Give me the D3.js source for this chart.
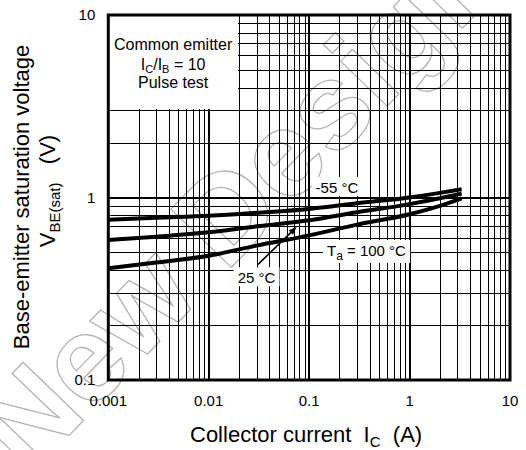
<!DOCTYPE html>
<html>
<head>
<meta charset="utf-8">
<script src="https://cdn.jsdelivr.net/npm/d3@7"></script>
<style>
  html, body { margin: 0; padding: 0; background: #fff; }
  svg { display: block; font-family: "Liberation Sans", Arial, sans-serif; }
  text { white-space: pre; }
</style>
</head>
<body>
<svg id="chart" width="526" height="450"></svg>
<script>
(function () {
    'use strict';

    // collector current Ic (A) and VBE(sat) (V) for each ambient temperature
    var currents = [0.001, 0.003, 0.01, 0.03, 0.1, 0.3, 1, 2, 3.3];
    var vbeMinus55 = [0.755, 0.775, 0.795, 0.825, 0.865, 0.93, 1.0, 1.06, 1.11];
    var vbe25 = [0.585, 0.61, 0.645, 0.695, 0.75, 0.83, 0.92, 0.99, 1.05];
    var vbe100 = [0.41, 0.44, 0.48, 0.545, 0.62, 0.71, 0.81, 0.90, 0.99];

    var xTickLabels = ['0.001', '0.01', '0.1', '1', '10'];
    var yTickLabels = ['0.1', '1', '10'];

    // curve labels: [Ic, VBE] of text centre / baseline
    var labelNames = [[['-55 °C', false]], [['T', false], ['a', true], [' = 100 °C', false]], [['25 °C', false]]];
    var labelAt = [[0.189, 1.06], [0.372, 0.478], [0.0299, 0.339]];
    var arrowFrom = [0.031, 0.43];
    var arrowTo = [0.075, 0.69];

    var svg = d3.select('#chart');
    var left = 108.3, right = 510, top = 15, bottom = 380;

    var x = d3.scaleLog().domain([0.001, 10]).range([left, right]);
    var y = d3.scaleLog().domain([0.1, 10]).range([bottom, top]);

    function isDecade(v) {
        var l = Math.log10(v);
        return Math.abs(l - Math.round(l)) < 1e-9;
    }

    // faint outlined watermark behind the chart
    svg.append('text')
        .attr('transform', 'translate(28,478) rotate(-46)')
        .attr('font-size', 122)
        .attr('font-weight', 'bold')
        .style('fill', 'none')
        .style('stroke', '#b4b4b4')
        .style('stroke-width', 1.3)
        .style('stroke-linejoin', 'round')
        .text('New Design');

    var grid = svg.append('g').attr('shape-rendering', 'crispEdges');

    grid.selectAll('line.vx')
        .data(x.ticks().filter(function (d) { return d > 0.001 && d < 10; }))
        .enter().append('line')
        .attr('x1', function (d) { return Math.round(x(d)); })
        .attr('x2', function (d) { return Math.round(x(d)); })
        .attr('y1', top)
        .attr('y2', bottom)
        .style('stroke', '#000')
        .style('stroke-width', function (d) { return isDecade(d) ? 2 : 1; });

    grid.selectAll('line.hy')
        .data(y.ticks().filter(function (d) { return d > 0.1 && d < 10; }))
        .enter().append('line')
        .attr('y1', function (d) { return Math.round(y(d)); })
        .attr('y2', function (d) { return Math.round(y(d)); })
        .attr('x1', left)
        .attr('x2', right)
        .style('stroke', '#000')
        .style('stroke-width', function (d) { return isDecade(d) ? 2 : 1; });

    // condition box, white cell in the upper left corner
    var boxRight = Math.round(x(0.02)) - 1;
    var boxBottom = Math.round(y(3)) - 1;
    svg.append('rect')
        .attr('x', left)
        .attr('y', top)
        .attr('width', boxRight - left)
        .attr('height', boxBottom - top)
        .style('fill', '#fff');

    var boxMid = (left + boxRight) / 2;
    var cond = svg.append('g').attr('font-size', 16).attr('text-anchor', 'middle');
    cond.append('text').attr('x', boxMid).attr('y', top + 35).text('Common emitter');
    var ratio = cond.append('text').attr('x', boxMid).attr('y', top + 55);
    ratio.append('tspan').text('I');
    ratio.append('tspan').attr('font-size', 11).attr('dy', 2.5).text('C');
    ratio.append('tspan').attr('dy', -2.5).text('/I');
    ratio.append('tspan').attr('font-size', 11).attr('dy', 2.5).text('B');
    ratio.append('tspan').attr('dy', -2.5).text(' = 10');
    cond.append('text').attr('x', boxMid).attr('y', top + 73).text('Pulse test');

    // curves
    var line = d3.line()
        .x(function (d) { return x(d[0]); })
        .y(function (d) { return y(d[1]); })
        .curve(d3.curveMonotoneX);

    [vbeMinus55, vbe25, vbe100].forEach(function (series) {
        svg.append('path')
            .datum(currents.map(function (c, i) { return [c, series[i]]; }))
            .attr('d', line)
            .style('fill', 'none')
            .style('stroke', '#000')
            .style('stroke-width', 4)
            .style('stroke-linejoin', 'round');
    });

    // curve labels on white patches
    labelNames.forEach(function (parts, i) {
        var g = svg.append('g');
        var t = g.append('text')
            .attr('x', x(labelAt[i][0]))
            .attr('y', y(labelAt[i][1]))
            .attr('font-size', 15)
            .attr('text-anchor', 'middle');
        parts.forEach(function (p, k) {
            var s = t.append('tspan').text(p[0]);
            if (p[1]) {
                s.attr('font-size', 12).attr('dy', 4);
            } else if (k > 0 && parts[k - 1][1]) {
                s.attr('dy', -4);
            }
        });
        var bb = t.node().getBBox();
        g.insert('rect', 'text')
            .attr('x', bb.x - 4)
            .attr('y', bb.y - 2)
            .attr('width', bb.width + 8)
            .attr('height', bb.height + 2)
            .style('fill', '#fff');
    });

    // arrow pointing at the 25 degree curve
    var ax0 = x(arrowFrom[0]), ay0 = y(arrowFrom[1]);
    var ax1 = x(arrowTo[0]), ay1 = y(arrowTo[1]);
    var ang = Math.atan2(ay1 - ay0, ax1 - ax0);
    var head = 8, half = 3;
    svg.append('line')
        .attr('x1', ax0).attr('y1', ay0)
        .attr('x2', ax1 - Math.cos(ang) * head * 0.7).attr('y2', ay1 - Math.sin(ang) * head * 0.7)
        .style('stroke', '#000')
        .style('stroke-width', 1.6);
    svg.append('path')
        .attr('d', 'M' + ax1 + ',' + ay1 +
            'L' + (ax1 - Math.cos(ang) * head - Math.sin(ang) * half) + ',' + (ay1 - Math.sin(ang) * head + Math.cos(ang) * half) +
            'L' + (ax1 - Math.cos(ang) * head + Math.sin(ang) * half) + ',' + (ay1 - Math.sin(ang) * head - Math.cos(ang) * half) + 'Z')
        .style('fill', '#000');

    // frame
    svg.append('rect')
        .attr('x', left)
        .attr('y', top)
        .attr('width', right - left)
        .attr('height', bottom - top)
        .style('fill', 'none')
        .style('stroke', '#000')
        .style('stroke-width', 3);

    // tick labels
    svg.append('g').selectAll('text')
        .data(xTickLabels)
        .enter().append('text')
        .attr('x', function (d) { return x(+d); })
        .attr('y', bottom + 26)
        .attr('font-size', 15)
        .attr('text-anchor', 'middle')
        .text(function (d) { return d; });

    svg.append('g').selectAll('text')
        .data(yTickLabels)
        .enter().append('text')
        .attr('x', left - 13)
        .attr('y', function (d) { return y(+d) + 5; })
        .attr('font-size', 15)
        .attr('text-anchor', 'end')
        .text(function (d) { return d; });

    // axis titles
    var xt = svg.append('text')
        .attr('x', 190)
        .attr('y', 442)
        .attr('font-size', 22);
    xt.append('tspan').text('Collector current  I');
    xt.append('tspan').attr('font-size', 15).attr('dy', 5).text('C');
    xt.append('tspan').attr('dy', -5).text('  (A)');

    svg.append('text')
        .attr('transform', 'translate(29,197) rotate(-90)')
        .attr('font-size', 22)
        .attr('text-anchor', 'middle')
        .text('Base-emitter saturation voltage');

    var yt = svg.append('text')
        .attr('transform', 'translate(55,191) rotate(-90)')
        .attr('font-size', 22)
        .attr('text-anchor', 'middle');
    yt.append('tspan').text('V');
    yt.append('tspan').attr('font-size', 15).attr('dy', 5).text('BE(sat)');
    yt.append('tspan').attr('dy', -5).text('   (V)');
})();
</script>
</body>
</html>
